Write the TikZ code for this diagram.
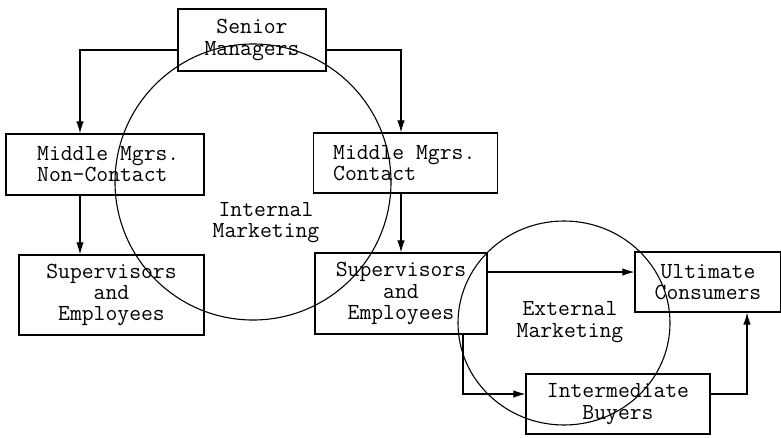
\documentclass[tikz,border=0pt]{standalone}
\usepackage{fontspec}
\usetikzlibrary{arrows.meta,shapes.geometric}
\begin{document}
\begin{tikzpicture}[x=1pt,y=-1pt,
  every node/.style={font=\ttfamily\fontsize{23}{21.2}\selectfont, inner sep=0pt},
  box/.style={draw, line width=1.2pt, rectangle},
  flow/.style={line width=1.1pt, -{Latex[length=12pt,width=7.5pt]}},
  ring/.style={draw, line width=1.1pt, inner sep=0pt}]
\useasboundingbox (0,0) rectangle (781,437);

% marketing circles
\node[ring, circle, minimum size=276pt] (internal) at (253,182) {};
\node[ring, ellipse, minimum width=212pt, minimum height=204pt] (external) at (564,323) {};
\node[align=center] (intlabel) at (266,223) {Internal\\Marketing};
\node[align=center] (extlabel) at (570,322) {External\\Marketing};

% organisation boxes
\node[box, minimum width=148pt, minimum height=62pt, align=center] (senior) at (252,40) {Senior\\Managers};
\node[box, minimum width=198pt, minimum height=61pt] (noncontact) at (105,164.5) {};
\node[align=left, anchor=west] at (37,164.5) {Middle Mgrs.\\Non-Contact};
\node[box, minimum width=184pt, minimum height=60pt] (contact) at (405.5,163) {};
\node[align=left, anchor=west] at (333,163) {Middle Mgrs.\\Contact};
\node[box, minimum width=185pt, minimum height=80pt, align=center] (supleft) at (111.5,295) {Supervisors\\and\\Employees};
\node[box, minimum width=172pt, minimum height=81pt, align=center] (supright) at (401,293.5) {Supervisors\\and\\Employees};
\node[box, minimum width=146pt, minimum height=60pt, align=center] (ultimate) at (708,282) {Ultimate\\Consumers};
\node[box, minimum width=184pt, minimum height=60pt, align=center] (intermediate) at (618,404) {Intermediate\\Buyers};

% reporting lines
\draw[flow] (senior.west |- 0,50) -| (noncontact.north -| 80,0);
\draw[flow] (senior.east |- 0,50) -| (contact.north -| 401,0);
\draw[flow] (noncontact.south -| 80,0) -- (supleft.north -| 80,0);
\draw[flow] (contact.south -| 401,0) -- (supright.north -| 401,0);

% market channels
\draw[flow] (supright.east |- 0,272) -- (ultimate.west |- 0,272);
\draw[flow] (supright.south -| 463,0) |- (intermediate.west |- 0,394);
\draw[flow] (intermediate.east |- 0,394) -| (ultimate.south -| 747,0);
\end{tikzpicture}
\end{document}
